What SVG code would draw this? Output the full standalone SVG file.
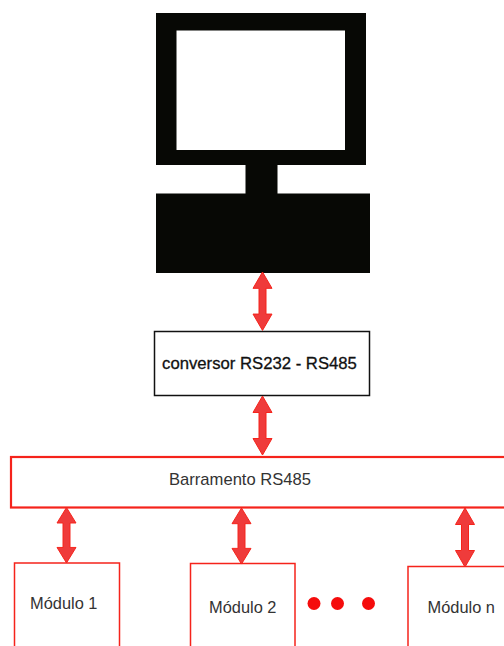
<svg xmlns="http://www.w3.org/2000/svg" width="504" height="646" viewBox="0 0 504 646">
<style>
.t{font-family:"Liberation Sans",Arial,sans-serif;font-size:16.400px;fill:#333}
.box{fill:#fff;stroke:#f5231b;stroke-width:1.500}
.bar{fill:#ef3b3b;stroke:#f5231b;stroke-width:1}
.pc{fill:#070805}
.dot{fill:#f50c0c}
</style>
<defs>
<path id="arrow" d="M0 0L9.500 16.500H3.500V42.500H9.500L0 59L-9.500 42.500H-3.500V16.500H-9.500Z"/>
</defs>
<rect width="504" height="646" fill="#fff"/>
<g id="computer">
<path class="pc" fill-rule="evenodd" d="M156 13H366V165H277.500V193.500H370V273H156V193.500H245.500V165H156ZM176.500 30.500V150H345V30.500Z"/>
</g>
<g id="conversor">
<rect x="154.500" y="331.500" width="215" height="64" fill="#fff" stroke="#111" stroke-width="1.500"/>
<text class="t" x="259.500" y="368.500" text-anchor="middle" style="font-size:16.700px;fill:#111;stroke:#111;stroke-width:.3">conversor RS232 - RS485</text>
</g>
<g id="barramento">
<rect class="box" x="11" y="457" width="497" height="50.500" style="stroke-width:2.200"/>
<text class="t" x="169" y="485" style="font-size:16.600px">Barramento RS485</text>
</g>
<g id="modulo1">
<path class="box" d="M14.500 646V563H119.500V646"/>
<text class="t" x="30" y="609">Módulo 1</text>
</g>
<g id="modulo2">
<path class="box" d="M190.500 646V563.500H295V646"/>
<text class="t" x="209" y="613">Módulo 2</text>
</g>
<g id="modulon">
<path class="box" d="M408 646V566.500H504"/>
<text class="t" x="427.500" y="613">Módulo n</text>
</g>
<g id="dots">
<circle class="dot" cx="314" cy="603.500" r="6.500"/>
<circle class="dot" cx="337.500" cy="603.500" r="6.500"/>
<circle class="dot" cx="368.500" cy="603.500" r="6.500"/>
</g>
<g id="connectors">
<use class="bar" href="#arrow" transform="translate(262.500 272) scale(1 .99)"/>
<use class="bar" href="#arrow" transform="translate(262.500 396) scale(1 1)"/>
<use class="bar" href="#arrow" transform="translate(66.500 507.500) scale(1 .94)"/>
<use class="bar" href="#arrow" transform="translate(241.500 508) scale(1 .95)"/>
<use class="bar" href="#arrow" transform="translate(465 508) scale(1 1)"/>
</g>
</svg>
